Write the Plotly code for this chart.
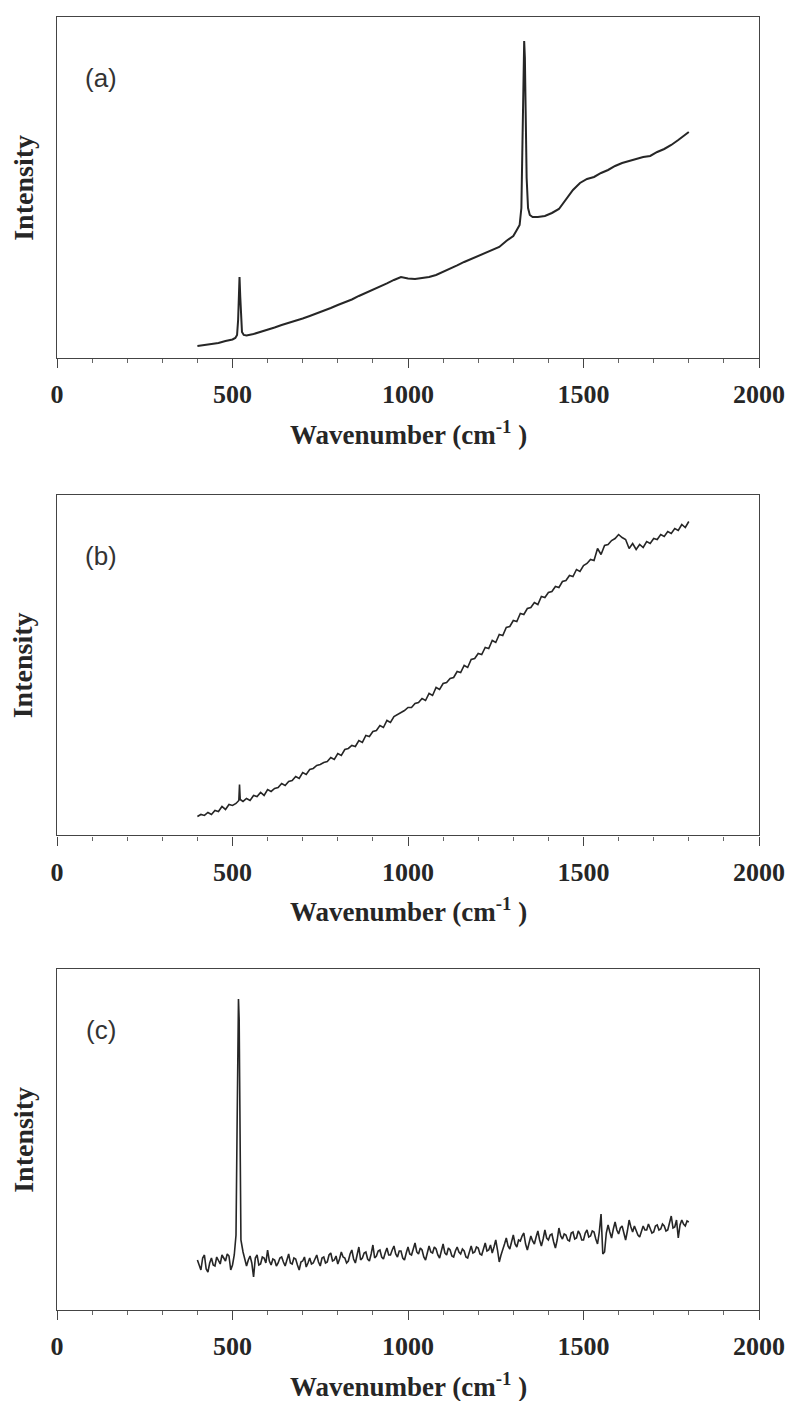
import plotly.graph_objects as go
from plotly.subplots import make_subplots

# ---------------- spectrum (a) ----------------
wn_a = [400, 420, 440, 460, 480, 500, 508, 513, 516, 518, 520, 522, 524, 527, 532, 540,
        560, 580, 600, 620, 640, 660, 680, 700, 720, 740, 760, 780, 800, 820, 840, 860,
        880, 900, 920, 940, 960, 980, 1000, 1020, 1040, 1060, 1080, 1100, 1120, 1140,
        1160, 1180, 1200, 1220, 1240, 1260, 1280, 1300, 1310, 1318, 1323, 1326, 1329,
        1331, 1333, 1335, 1338, 1342, 1347, 1355, 1370, 1390, 1410, 1430, 1450, 1470,
        1490, 1510, 1530, 1550, 1570, 1590, 1610, 1630, 1650, 1670, 1690, 1710, 1730,
        1750, 1770, 1790, 1800]
int_a = [12, 13, 14.5, 15, 17, 18.5, 20, 23, 38, 65, 81, 62, 38, 26, 23, 22.5,
         24, 26, 28, 30.5, 33, 35, 37, 39.5, 42, 44.5, 47, 50, 53, 55.5, 58.5, 62,
         65, 68, 71, 74.5, 78, 81, 79.5, 79, 80, 81, 83, 86, 89, 92.5,
         96, 99, 102, 105, 108.5, 111, 117, 122, 128, 133, 150, 200, 280,
         317, 300, 240, 180, 150, 143, 141, 141, 142, 145, 149, 158, 168,
         175, 179, 181, 185, 188, 192, 195, 197, 199, 201, 202, 206, 209,
         213, 218, 223, 226]

# ---------------- spectrum (b) ----------------
wn_b = [400, 410, 420, 430, 440, 450, 460, 470, 480, 490, 500, 510, 518, 520, 522, 530,
        540, 550, 560, 570, 580, 590, 600, 610, 620, 630, 640, 650, 660, 670, 680, 690,
        700, 710, 720, 730, 740, 750, 760, 770, 780, 790, 800, 810, 820, 830, 840, 850,
        860, 870, 880, 890, 900, 910, 920, 930, 940, 950, 960, 970, 980, 990, 1000,
        1010, 1020, 1030, 1040, 1050, 1060, 1070, 1080, 1090, 1100, 1110, 1120, 1130,
        1140, 1150, 1160, 1170, 1180, 1190, 1200, 1210, 1220, 1230, 1240, 1250, 1260,
        1270, 1280, 1290, 1300, 1310, 1320, 1330, 1340, 1350, 1360, 1370, 1380, 1390,
        1400, 1410, 1420, 1430, 1440, 1450, 1460, 1470, 1480, 1490, 1500, 1510, 1520,
        1530, 1540, 1550, 1560, 1570, 1580, 1590, 1600, 1610, 1620, 1630, 1640, 1650,
        1660, 1670, 1680, 1690, 1700, 1710, 1720, 1730, 1740, 1750, 1760, 1770, 1780,
        1790, 1800]
int_b = [19, 21, 20, 23, 21, 25, 24, 29, 26, 31, 30, 32, 35, 51, 36, 34,
         37, 35, 40, 39, 43, 40, 46, 44, 47, 48, 52, 50, 54, 55, 59, 57,
         63, 61, 66, 67, 70, 71, 73, 74, 78, 76, 82, 80, 86, 87, 90, 89,
         95, 93, 100, 99, 104, 105, 110, 108, 115, 113, 119, 121, 123, 125, 128,
         128, 132, 133, 137, 135, 142, 140, 148, 146, 152, 153, 157, 158,
         164, 163, 170, 168, 176, 177, 182, 181, 188, 187, 195, 193, 201,
         200, 208, 209, 215, 214, 222, 221, 227, 228, 233, 231, 239, 238,
         243, 244, 249, 248, 254, 255, 260, 259, 266, 264, 270, 272, 276,
         275, 287, 281, 290, 291, 295, 297, 301, 298, 296, 287, 292, 286,
         291, 288, 294, 292, 297, 296, 301, 299, 304, 302, 307, 305, 311,
         308, 314]

# ---------------- spectrum (c) ----------------
# sampled every 5 cm-1, denser round the 517 line
wn_c = (list(range(400, 500, 5))
        + [500, 505, 510, 513, 515, 517, 519, 521, 524, 530, 535]
        + list(range(540, 1805, 5)))
int_c = [50, 44, 40, 52, 55, 41, 38, 47, 52, 45,
         44, 53, 50, 46, 55, 52, 49, 56, 54, 40,
         45, 55, 75, 180, 290, 311, 290, 170, 70, 58, 52,
         44, 50, 54, 47, 33, 52, 55, 45, 46, 53,
         52, 47, 60, 49, 45, 51, 50, 44, 47, 52,
         53, 48, 44, 50, 56, 47, 46, 52, 51, 45,
         40, 48, 49, 53, 43, 47, 52, 46, 47, 51,
         55, 48, 44, 52, 53, 47, 48, 55, 57, 49,
         50, 54, 46, 51, 58, 53, 52, 47, 49, 56,
         60, 51, 47, 55, 63, 50, 52, 57, 58, 51,
         49, 56, 65, 52, 54, 59, 60, 53, 51, 57,
         62, 55, 55, 60, 64, 56, 53, 59, 59, 52,
         50, 57, 63, 56, 55, 61, 67, 58, 56, 62,
         60, 53, 50, 57, 64, 58, 57, 63, 61, 55,
         52, 59, 66, 57, 55, 62, 60, 54, 53, 59,
         63, 58, 56, 61, 59, 53, 52, 58, 64, 57,
         58, 63, 62, 56, 55, 61, 67, 59, 60, 65,
         57, 63, 70, 60, 48, 55, 62, 66, 72, 64,
         61, 68, 75, 66, 63, 70, 69, 74, 77, 66,
         60, 67, 74, 69, 66, 73, 79, 70, 64, 71,
         80, 72, 70, 75, 76, 68, 62, 70, 82, 74,
         71, 76, 75, 70, 69, 77, 78, 71, 72, 79,
         76, 70, 70, 77, 80, 73, 74, 79, 78, 71,
         66, 78, 96, 56, 58, 77, 85, 78, 72, 81,
         88, 80, 76, 82, 84, 77, 70, 79, 90, 83,
         78, 84, 80, 75, 73, 79, 84, 80, 80, 86,
         82, 77, 78, 84, 85, 80, 81, 86, 84, 79,
         80, 87, 94, 82, 83, 90, 72, 85, 90, 86,
         84, 89, 88]

panel_tags = ["(a)", "(b)", "(c)"]
tick_vals = [0, 500, 1000, 1500, 2000]

serif = "Liberation Serif"
ink = "#262626"

fig = make_subplots(rows=3, cols=1, vertical_spacing=0.1)

spectra = [(wn_a, int_a, 2.0), (wn_b, int_b, 1.6), (wn_c, int_c, 1.6)]
for i, (xs, ys, w) in enumerate(spectra):
    fig.add_trace(go.Scatter(x=xs, y=ys, mode="lines",
                             line=dict(color=ink, width=w), showlegend=False),
                  row=i + 1, col=1)

domains = [[0.7363, 1.0], [0.367, 0.6307], [0.0, 0.2637]]

for i in range(3):
    n = "" if i == 0 else str(i + 1)
    fig.layout["xaxis" + n].update(
        range=[0, 2000], tickvals=tick_vals, ticks="outside", ticklen=9, tickwidth=1.3,
        tickcolor="#444", showline=True, linecolor="#444", linewidth=1.3, mirror=True,
        showgrid=False, zeroline=False, ticklabelstandoff=4,
        tickfont=dict(family=serif, size=26, color=ink, weight="bold"),
        minor=dict(dtick=100, ticks="outside", ticklen=4, tickcolor="#666", tickwidth=1),
    )
    fig.layout["yaxis" + n].update(
        range=[0, 341], domain=domains[i], showticklabels=False, ticks="",
        showline=True, linecolor="#444", linewidth=1.3, mirror=True,
        showgrid=False, zeroline=False,
    )
    xd = "x" + n + " domain"
    yd = "y" + n + " domain"
    fig.add_annotation(xref=xd, yref=yd, x=0.5, y=-0.22, showarrow=False,
                       xanchor="center", yanchor="middle",
                       text="<b>Wavenumber (cm<sup>-1</sup> )</b>",
                       font=dict(family=serif, size=27, color=ink))
    fig.add_annotation(xref=xd, yref=yd, x=-0.048, y=0.5, showarrow=False, textangle=-90,
                       xanchor="center", yanchor="middle",
                       text="<b>Intensity</b>",
                       font=dict(family=serif, size=28, color=ink))
    fig.add_annotation(xref=xd, yref=yd, x=0.062, y=0.82, showarrow=False,
                       xanchor="center", yanchor="middle",
                       text=panel_tags[i],
                       font=dict(family="Liberation Sans", size=26, color="#333"))

# the page body adds an 8px offset, so the figure is 8px smaller than the window
fig.update_layout(
    width=786, height=1393,
    margin=dict(l=49, r=35, t=9, b=91),
    paper_bgcolor="white", plot_bgcolor="white",
)

fig.write_html("out.html")
